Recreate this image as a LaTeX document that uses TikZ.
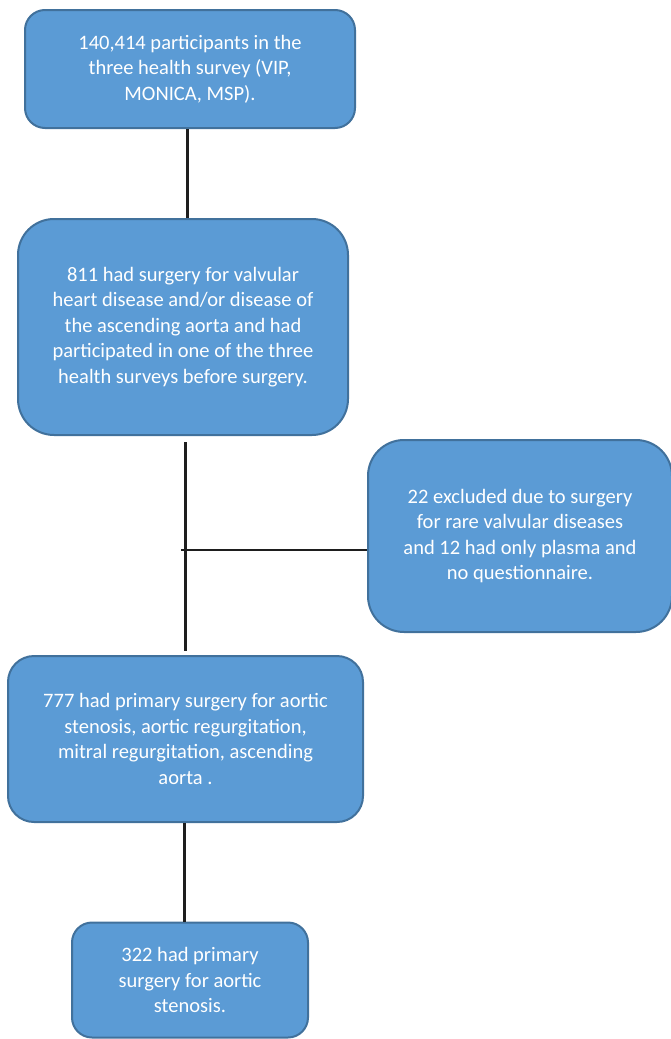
\documentclass[tikz,border=0pt]{standalone}
\usepackage{fontspec}
\setmainfont{Carlito}
\usetikzlibrary{calc}
\definecolor{boxfill}{HTML}{5B9BD5}
\definecolor{boxline}{HTML}{41719C}
\definecolor{lineblack}{HTML}{1E1E1E}
\begin{document}
\begin{tikzpicture}[x=1pt,y=-1pt,
  box/.style={draw=boxline, fill=boxfill, line width=2pt, text=white, align=center,
    font=\fontsize{20.5}{25.5}\selectfont, inner sep=0pt},
  conn/.style={line width=3pt, draw=lineblack},
  hconn/.style={line width=2.2pt, draw=lineblack}]
\useasboundingbox (0,0) rectangle (670,1039);
\node[box, rounded corners=20pt, minimum width=330pt, minimum height=118pt] (a) at (190,69)
  {140,414 participants in the\\three health survey (VIP,\\MONICA, MSP).};
\node[box, rounded corners=36pt, minimum width=330pt, minimum height=216pt] (b) at (183,327)
  {811 had surgery for valvular\\heart disease and/or disease of\\the ascending aorta and had\\participated in one of the three\\health surveys before surgery.};
\node[box, rounded corners=36pt, minimum width=304pt, minimum height=192pt] (c) at (520,536)
  {22 excluded due to surgery\\for rare valvular diseases\\and 12 had only plasma and\\no questionnaire.};
\node[box, rounded corners=26pt, minimum width=355pt, minimum height=166pt] (d) at (185.5,739)
  {777 had primary surgery for aortic\\stenosis, aortic regurgitation,\\mitral regurgitation, ascending\\aorta .};
\node[box, rounded corners=20pt, minimum width=236pt, minimum height=115pt] (e) at (190,980)
  {322 had primary\\surgery for aortic\\stenosis.};
\coordinate (j) at (181,550);
\draw[conn] ($(a.south)+(-3,0)$) -- ($(a.south |- b.north)+(-3,0)$);
\draw[conn] ($(b.south)+(2,6)$) -- ($(b.south |- d.north)+(2,-4)$);
\draw[hconn] (c.west |- j) -- (j);
\draw[conn] ($(d.south)+(-1.5,0)$) -- ($(d.south |- e.north)+(-1.5,0)$);
\end{tikzpicture}
\end{document}
